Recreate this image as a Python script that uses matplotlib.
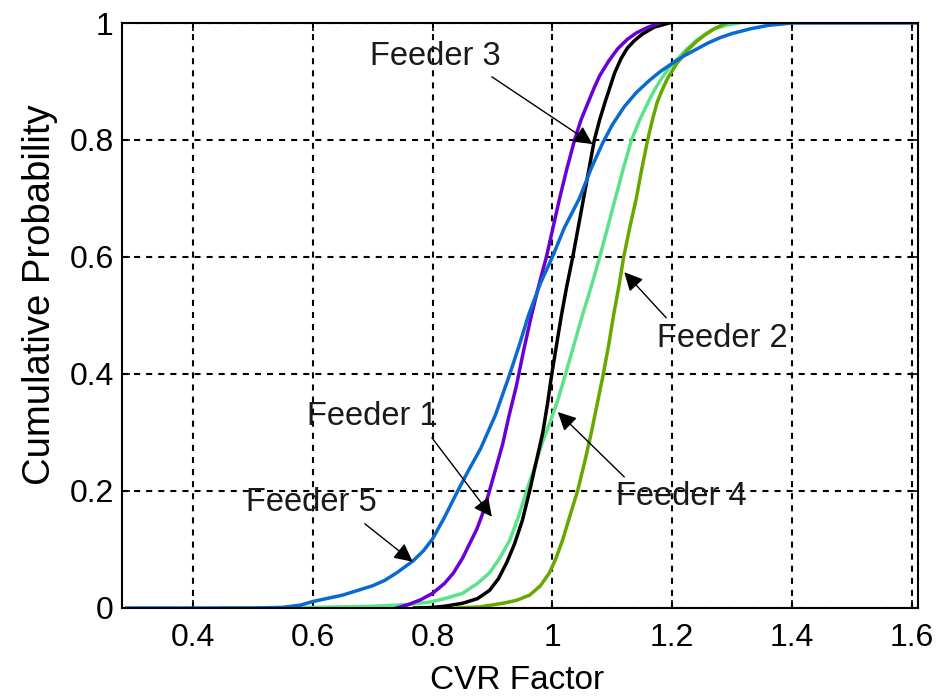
import matplotlib
matplotlib.use("Agg")
import matplotlib.pyplot as plt

plt.rcParams['font.family'] = ['Liberation Sans', 'DejaVu Sans']

# ---- data ----
f5_x = [0.29, 0.50, 0.55, 0.58, 0.60, 0.65, 0.70, 0.72, 0.74, 0.767, 0.785, 0.80, 0.82, 0.842, 0.86, 0.88, 0.905, 0.929, 0.945, 0.96, 0.98, 1.00, 1.02, 1.045, 1.065, 1.084, 1.10, 1.12, 1.14, 1.162, 1.18, 1.20, 1.22, 1.24, 1.26, 1.28, 1.30, 1.33, 1.36, 1.40, 1.61]
f5_y = [0.0, 0.0, 0.001, 0.005, 0.011, 0.022, 0.038, 0.047, 0.060, 0.080, 0.098, 0.118, 0.155, 0.20, 0.235, 0.272, 0.33, 0.40, 0.45, 0.50, 0.555, 0.60, 0.65, 0.70, 0.752, 0.795, 0.826, 0.857, 0.881, 0.902, 0.917, 0.931, 0.944, 0.955, 0.966, 0.975, 0.982, 0.99, 0.996, 1.0, 1.0]

f1_x = [0.74, 0.76, 0.78, 0.80, 0.82, 0.835, 0.85, 0.862, 0.874, 0.885, 0.895, 0.906, 0.917, 0.928, 0.94, 0.952, 0.965, 0.977, 0.99, 1.001, 1.012, 1.024, 1.037, 1.048, 1.06, 1.07, 1.079, 1.094, 1.109, 1.125, 1.14, 1.16, 1.18]
f1_y = [0.0, 0.006, 0.014, 0.025, 0.042, 0.06, 0.085, 0.11, 0.135, 0.165, 0.20, 0.24, 0.28, 0.33, 0.38, 0.44, 0.50, 0.55, 0.60, 0.65, 0.70, 0.75, 0.80, 0.835, 0.865, 0.89, 0.91, 0.935, 0.956, 0.972, 0.983, 0.993, 1.0]

f3_x = [0.77, 0.80, 0.82, 0.85, 0.875, 0.895, 0.91, 0.924, 0.937, 0.95, 0.962, 0.973, 0.984, 0.992, 0.999, 1.007, 1.015, 1.024, 1.034, 1.043, 1.052, 1.061, 1.070, 1.079, 1.088, 1.096, 1.104, 1.115, 1.125, 1.137, 1.15, 1.17, 1.195]
f3_y = [0.0, 0.001, 0.003, 0.008, 0.016, 0.03, 0.05, 0.078, 0.11, 0.15, 0.20, 0.25, 0.30, 0.35, 0.40, 0.45, 0.50, 0.55, 0.60, 0.65, 0.70, 0.75, 0.80, 0.835, 0.865, 0.89, 0.915, 0.94, 0.957, 0.97, 0.981, 0.993, 1.0]

f4_x = [0.45, 0.60, 0.70, 0.76, 0.795, 0.82, 0.85, 0.875, 0.895, 0.912, 0.929, 0.943, 0.957, 0.97, 0.984, 0.997, 1.009, 1.022, 1.036, 1.05, 1.065, 1.079, 1.092, 1.105, 1.118, 1.132, 1.146, 1.16, 1.17, 1.182, 1.196, 1.21, 1.225, 1.24, 1.255, 1.27, 1.29, 1.31]
f4_y = [0.0, 0.001, 0.003, 0.006, 0.01, 0.016, 0.025, 0.042, 0.06, 0.085, 0.116, 0.155, 0.20, 0.24, 0.285, 0.32, 0.355, 0.40, 0.45, 0.50, 0.55, 0.60, 0.65, 0.70, 0.75, 0.80, 0.835, 0.865, 0.885, 0.905, 0.925, 0.94, 0.956, 0.97, 0.981, 0.99, 0.996, 1.0]

f2_x = [0.84, 0.88, 0.917, 0.94, 0.962, 0.98, 0.995, 1.006, 1.017, 1.03, 1.042, 1.054, 1.065, 1.075, 1.085, 1.094, 1.102, 1.111, 1.119, 1.129, 1.14, 1.149, 1.159, 1.167, 1.175, 1.183, 1.192, 1.207, 1.224, 1.24, 1.255, 1.27, 1.29]
f2_y = [0.0, 0.002, 0.008, 0.013, 0.022, 0.038, 0.06, 0.085, 0.116, 0.16, 0.20, 0.25, 0.30, 0.35, 0.40, 0.45, 0.50, 0.55, 0.60, 0.65, 0.70, 0.75, 0.80, 0.835, 0.865, 0.885, 0.905, 0.93, 0.952, 0.968, 0.98, 0.99, 1.0]

x_ticks = [0.4, 0.6, 0.8, 1.0, 1.2, 1.4, 1.6]
x_tick_labels = ['0.4', '0.6', '0.8', '1', '1.2', '1.4', '1.6']
y_ticks = [0, 0.2, 0.4, 0.6, 0.8, 1.0]
y_tick_labels = ['0', '0.2', '0.4', '0.6', '0.8', '1']

# label text, text centre (data), arrow tail (data), arrow tip (data)
ann_text = ['Feeder 3', 'Feeder 2', 'Feeder 1', 'Feeder 5', 'Feeder 4']
ann_text_xy = [(0.805, 0.942), (1.283, 0.461), (0.700, 0.327), (0.598, 0.180), (1.215, 0.190)]
ann_start = [(0.899, 0.908), (1.190, 0.496), (0.799, 0.291), (0.687, 0.144), (1.120, 0.224)]
ann_xy = [(1.067, 0.793), (1.120, 0.574), (0.899, 0.156), (0.767, 0.079), (1.009, 0.335)]

fig = plt.figure(figsize=(9.39, 6.97), dpi=100)
ax = fig.add_axes([0.130, 0.1277, 0.8476, 0.8393])

ax.plot(f4_x, f4_y, color='#5BE38C', lw=2.5, zorder=3)
ax.plot(f3_x, f3_y, color='black', lw=2.5, zorder=3)
ax.plot(f2_x, f2_y, color='#66A800', lw=2.5, zorder=3)
ax.plot(f1_x, f1_y, color='#6A00D6', lw=2.5, zorder=3)
ax.plot(f5_x, f5_y, color='#0A6AD0', lw=2.5, zorder=3)

ax.set_xlim(0.282, 1.61)
ax.set_ylim(0, 1)
ax.set_xticks(x_ticks)
ax.set_xticklabels(x_tick_labels)
ax.set_yticks(y_ticks)
ax.set_yticklabels(y_tick_labels)
ax.tick_params(direction='in', length=6, width=1.2, top=True, right=True,
               labelsize=23, colors='black')
ax.tick_params(axis='x', pad=11)
ax.tick_params(axis='y', pad=6)
ax.grid(True, color='black', lw=1.5, linestyle=(0, (2.9, 2.9)), zorder=1)
for s in ax.spines.values():
    s.set_linewidth(1.5)
    s.set_zorder(4)

ax.set_xlabel('CVR Factor', fontsize=24)
ax.xaxis.set_label_coords(0.496, -0.097)
ax.set_ylabel('Cumulative Probability', fontsize=27.5)
ax.yaxis.set_label_coords(-0.081, 0.536)

for t, tip, txy, st in zip(ann_text, ann_xy, ann_text_xy, ann_start):
    ax.text(txy[0], txy[1], t, fontsize=23.5, ha='center', va='center', color='#1a1a1a', zorder=5)
    ax.annotate('', xy=tip, xytext=st,
                arrowprops=dict(arrowstyle='-|>', color='black', lw=1.0,
                                mutation_scale=28, shrinkA=0, shrinkB=0),
                zorder=6)

fig.savefig('out.png', dpi=100)
